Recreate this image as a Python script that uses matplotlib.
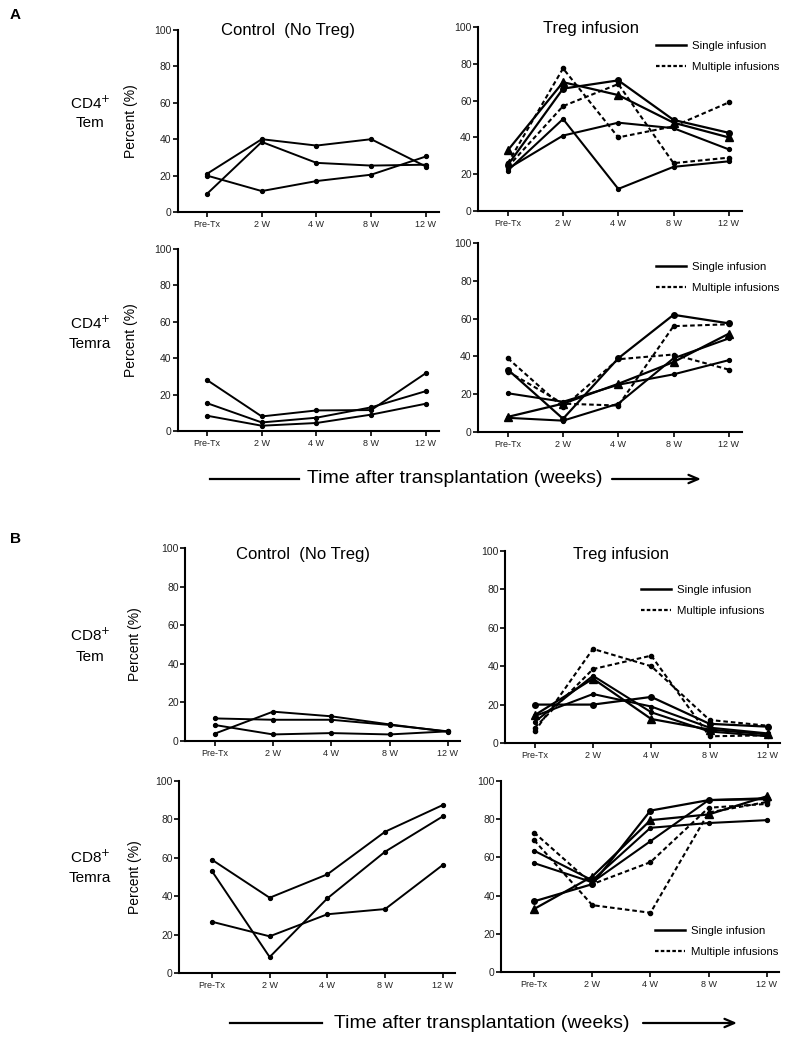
import matplotlib
matplotlib.use("Agg")
import matplotlib.pyplot as plt
from matplotlib.lines import Line2D
from matplotlib.patches import FancyArrowPatch

plt.rcParams["font.family"] = ["Liberation Sans", "DejaVu Sans"]

WEEKS = ["Pre-Tx", "2 W", "4 W", "8 W", "12 W"]
YTICKS = [0, 20, 40, 60, 80, 100]

# CD4+ Tem
cd4_tem_ctrl = [
    [21, 40, 36.5, 40, 25],
    [10, 38.5, 27, 25.5, 26],
    [20, 11.5, 17, 20.5, 30.5],
]
cd4_tem_single = [
    [33, 70, 63, 48, 40],
    [25, 66.5, 71, 49.5, 42.5],
    [22, 50, 12, 24, 27],
    [23, 41, 48, 45, 33.5],
]
cd4_tem_multi = [
    [26, 77.5, 40, 46, 59],
    [24, 57, 69, 26, 29],
]

# CD4+ Temra
cd4_temra_ctrl = [
    [28, 8, 11.3, 11.5, 31.8],
    [15.3, 4.7, 7.3, 13, 21.9],
    [8.4, 2.9, 4.4, 9, 15],
]
cd4_temra_single = [
    [8, 15, 25.5, 37, 52],
    [33, 7, 39, 62, 57.5],
    [20.5, 16, 25, 30.5, 38],
    [7.5, 6, 15, 39, 49.5],
]
cd4_temra_multi = [
    [39, 13, 38.5, 41, 33],
    [32, 15, 14, 56, 57],
]

# CD8+ Tem
cd8_tem_ctrl = [
    [11.7, 11, 11, 8.3, 5],
    [8.3, 3.4, 4.1, 3.4, 5],
    [3.8, 15.2, 12.8, 8.6, 4.8],
]
cd8_tem_single = [
    [14.5, 33.5, 12.5, 7, 4.5],
    [20, 20, 24, 10, 8.5],
    [14, 25.5, 19, 8, 5],
    [11, 35, 16, 6, 3.5],
]
cd8_tem_multi = [
    [6, 49, 40, 12, 9],
    [8, 38.5, 45.5, 3.5, 4],
]

# CD8+ Temra
cd8_temra_ctrl = [
    [59, 39.2, 51.4, 73.6, 87.5],
    [53.1, 8.3, 38.9, 63.2, 81.6],
    [26.7, 19.1, 30.6, 33.3, 56.3],
]
cd8_temra_single = [
    [33, 50, 79.5, 82.5, 92],
    [37, 46, 84.5, 90, 90.5],
    [63.5, 48, 75.5, 78, 79.5],
    [57, 47, 68.5, 90, 91],
]
cd8_temra_multi = [
    [73, 46, 57.5, 86, 88],
    [69, 35, 31, 83.5, 89],
]

W, H = 799, 1046
fig = plt.figure(figsize=(W / 100, H / 100), dpi=100)


def fx(px):
    return px / W


def fy(py):
    return 1 - py / H


def make_ax(left, right, y100, y0, xpad=(0.54, 0.24)):
    ax = fig.add_axes([fx(left), fy(y0), (right - left) / W, (y0 - y100) / H])
    ax.set_ylim(0, 100)
    ax.set_xlim(-xpad[0], 4 + xpad[1])
    ax.set_yticks(YTICKS)
    ax.set_xticks(range(len(WEEKS)))
    ax.set_xticklabels(WEEKS, fontsize=6.5, color="#222222")
    ax.tick_params(axis="y", labelsize=7.5, labelcolor="#222222", length=3.5, width=1.2, pad=1)
    ax.tick_params(axis="x", length=3.5, width=1.2, pad=2)
    for s in ["top", "right"]:
        ax.spines[s].set_visible(False)
    for s in ["left", "bottom"]:
        ax.spines[s].set_linewidth(1.5)
    ax.patch.set_visible(False)
    return ax


def add_ylabel(ax, left, right, x_center):
    ax.set_ylabel("Percent (%)", fontsize=10)
    ax.yaxis.set_label_coords((x_center - left) / (right - left), 0.5)


def draw_ctrl(ax, rows):
    for r in rows:
        ax.plot(range(len(WEEKS)), r, color="black", lw=1.4, marker="o", ms=2.8, clip_on=False)


def draw_treg(ax, single, multi):
    for i, r in enumerate(single):
        if i == 0:
            ax.plot(range(len(WEEKS)), r, color="black", lw=1.6, marker="^", ms=5.5, clip_on=False)
        elif i == 1:
            ax.plot(range(len(WEEKS)), r, color="black", lw=1.6, marker="o", ms=4, clip_on=False)
        else:
            ax.plot(range(len(WEEKS)), r, color="black", lw=1.5, marker="o", ms=2.8, clip_on=False)
    for r in multi:
        ax.plot(range(len(WEEKS)), r, color="black", lw=1.5, ls=(0, (2.2, 1.4)),
                marker="o", ms=3, clip_on=False)


def add_legend(ax, x_left, y_top):
    handles = [
        Line2D([], [], color="black", lw=1.8),
        Line2D([], [], color="black", lw=1.6, ls=(0, (1.6, 1.0))),
    ]
    ax.legend(handles, ["Single infusion", "Multiple infusions"], frameon=False,
              fontsize=8.2, handlelength=2.6, handletextpad=0.6, labelspacing=1.0,
              borderpad=0, borderaxespad=0, loc="upper left",
              bbox_to_anchor=(fx(x_left), fy(y_top)), bbox_transform=fig.transFigure)


# Panel A
ax = make_ax(177.5, 439, 30, 212)
draw_ctrl(ax, cd4_tem_ctrl)
add_ylabel(ax, 177.5, 439, 138)
ax = make_ax(478, 742, 27, 211)
draw_treg(ax, cd4_tem_single, cd4_tem_multi)
add_legend(ax, 656, 41)

ax = make_ax(177.5, 439, 249, 431)
draw_ctrl(ax, cd4_temra_ctrl)
add_ylabel(ax, 177.5, 439, 138)
ax = make_ax(478, 742, 243, 432)
draw_treg(ax, cd4_temra_single, cd4_temra_multi)
add_legend(ax, 656, 262)

# Panel B
ax = make_ax(185, 460, 548, 741, xpad=(0.51, 0.21))
draw_ctrl(ax, cd8_tem_ctrl)
add_ylabel(ax, 185, 460, 142)
ax = make_ax(505, 780, 551, 743, xpad=(0.51, 0.21))
draw_treg(ax, cd8_tem_single, cd8_tem_multi)
add_legend(ax, 641, 585)

ax = make_ax(179, 455, 781, 973, xpad=(0.57, 0.21))
draw_ctrl(ax, cd8_temra_ctrl)
add_ylabel(ax, 179, 455, 142)
ax = make_ax(501, 779, 781, 972, xpad=(0.57, 0.21))
draw_treg(ax, cd8_temra_single, cd8_temra_multi)
add_legend(ax, 655, 926)

# titles
for x, y, t in [(288, 30, "Control  (No Treg)"), (591, 28, "Treg infusion"),
                (303, 555, "Control  (No Treg)"), (621, 555, "Treg infusion")]:
    fig.text(fx(x), fy(y), t, fontsize=12, ha="center", va="center")

# row labels
for x, y1, y2, a, b in [(90, 103, 123, "CD4", "Tem"), (90, 323, 344, "CD4", "Temra"),
                        (90, 635, 657, "CD8", "Tem"), (90, 857, 878, "CD8", "Temra")]:
    fig.text(fx(x), fy(y1), a + r"$^{+}$", fontsize=11, ha="center", va="center")
    fig.text(fx(x), fy(y2), b, fontsize=11, ha="center", va="center")

# panel letters
fig.text(fx(10), fy(15), "A", fontsize=11, fontweight="bold", va="center")
fig.text(fx(10), fy(539), "B", fontsize=11, fontweight="bold", va="center")

# time arrows
for x0, x1, xt, x2, x3, y in [(210, 299, 455, 612, 701, 479), (230, 322, 482, 643, 737, 1023)]:
    fig.add_artist(Line2D([fx(x0), fx(x1)], [fy(y), fy(y)], color="black", lw=1.6))
    fig.text(fx(xt), fy(y), "Time after transplantation (weeks)", fontsize=14,
             ha="center", va="center")
    fig.add_artist(FancyArrowPatch(
        (fx(x2), fy(y)), (fx(x3), fy(y)), transform=fig.transFigure,
        arrowstyle="->,head_length=7,head_width=3", color="black", lw=1.6,
        shrinkA=0, shrinkB=0))

fig.savefig("out.png", dpi=100)
